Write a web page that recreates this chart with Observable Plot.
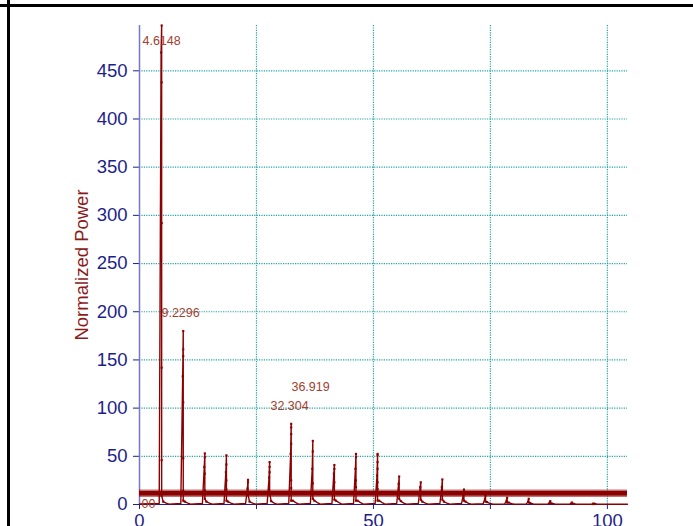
<!DOCTYPE html>
<html>
<head>
<meta charset="utf-8">
<script src="https://cdn.jsdelivr.net/npm/d3@7"></script>
<script src="https://cdn.jsdelivr.net/npm/@observablehq/plot@0.6"></script>
<style>
  html, body { margin: 0; padding: 0; background: #fff; }
  body { width: 693px; height: 526px; position: relative; overflow: hidden; font-family: "Liberation Sans", Arial, sans-serif; }
  #chart { position: absolute; left: 0; top: 0; }
  .frameTop { position: absolute; left: 0; top: 4px; width: 693px; height: 2.5px; background: #000; }
  .frameLeft { position: absolute; left: 7px; top: 0; width: 2.5px; height: 526px; background: #000; }
</style>
</head>
<body>
<div id="chart"></div>
<div class="frameTop"></div>
<div class="frameLeft"></div>
<script>
// ---- data ----
const peakFreq = [4.6148, 9.2296, 13.844, 18.459, 23.074, 27.689, 32.304, 36.919, 41.533, 46.148, 50.763,
                  55.378, 59.992, 64.607, 69.222, 73.837, 78.452, 83.066, 87.681, 92.296, 96.911];
const peakRise = [469, 133, 39, 33.5, 16.6, 28, 52.6, 37, 32, 37, 30, 21.5, 18, 18, 10, 6, 4, 3, 2, 1, 0.5];
const peakTop  = [497, 180, 53, 51, 25.6, 44, 83.7, 66, 41, 52.5, 52.5, 29, 23, 26, 15.5, 9.3, 7, 6, 3.5, 2, 1];
const peakFall = [
  [438, 292, 142, 46, 9],
  [161, 154, 106, 48, 14, 4],
  [49, 32, 14.5, 6],
  [41.5, 25, 15.5, 4],
  [23, 10],
  [39, 33.5, 12],
  [80, 73, 63, 25, 17, 4],
  [55, 22, 6],
  [37, 23, 5],
  [49, 25, 18, 4],
  [51, 44, 37, 23, 16, 4],
  [6], [5], [5], [4], [3], [2], [2], [1.5], [1], [0.5]
];
// small skirt samples around each peak: [before, after-near, after-far]
const peakSkirt = [
  [1, 3, 1.5], [1, 3, 1.5], [1, 3, 1.5], [1, 3, 1.5], [1, 3, 1.5], [1.2, 3.5, 1.5], [1.2, 4, 2],
  [1.2, 4, 2], [1.2, 4, 2], [1.2, 4, 2], [1.2, 4, 2], [1, 3.5, 1.5], [1, 3, 1.5], [1, 3, 1.5],
  [1, 3, 1.2], [0.8, 2.5, 1], [0.7, 2, 0.8], [0.6, 1.5, 0.7], [0.5, 1, 0.5], [0.4, 0.8, 0.4], [0.3, 0.6, 0.3]
];
const skirtOffsets = [-0.4, 0.45, 1.1];   // frequency offsets of skirt samples
const sampleStep = 0.12;                   // frequency step between up- and down-stroke samples
const baseLevel = 0.3;
const specStart = [0, 0.5];
const specEnd = [104.3, 0.3];

const bandLevel = 11.6;                    // horizontal threshold band

const yTicks = [0, 50, 100, 150, 200, 250, 300, 350, 400, 450];
const xTicks = [0, 25, 50, 75, 100];
const xTickLabels = [0, 50, 100];

const annoText = ["4.6148", "9.2296", "32.304", "36.919", "00"];
const annoX = [0.64, 4.70, 27.99, 32.48, 0.43];
const annoY = [480.4, 199.2, 102.7, 122.4, 1.0];

// ---- build spectrum samples ----
const spectrum = [{x: specStart[0], y: specStart[1]}];
const markers = [];
peakFreq.forEach((f, i) => {
  const s = peakSkirt[i];
  spectrum.push({x: f + skirtOffsets[0], y: s[0]});
  spectrum.push({x: f, y: peakRise[i]});
  markers.push({x: f, y: peakRise[i]});
  spectrum.push({x: f + sampleStep, y: peakTop[i]});
  markers.push({x: f + sampleStep, y: peakTop[i]});
  peakFall[i].forEach(v => { spectrum.push({x: f + sampleStep, y: v}); markers.push({x: f + sampleStep, y: v}); });
  spectrum.push({x: f + skirtOffsets[1], y: s[1]});
  markers.push({x: f + skirtOffsets[1], y: s[1]});
  spectrum.push({x: f + skirtOffsets[2], y: s[2]});
  spectrum.push({x: f + skirtOffsets[2] + 0.6, y: baseLevel});
});
spectrum.push({x: specEnd[0], y: specEnd[1]});

const annos = annoText.map((t, i) => ({t, x: annoX[i], y: annoY[i]}));

const navy = "#1e1e8c";
const red = "#8b0000";
const gridColor = "#22a5a5";

const chart = Plot.plot({
  width: 693,
  height: 526,
  marginLeft: 139,
  marginRight: 66,
  marginTop: 25,
  marginBottom: 22,
  style: {fontFamily: "'Liberation Sans', Arial, sans-serif", background: "transparent", overflow: "visible"},
  x: {domain: [0, 104.3]},
  y: {domain: [0, 497]},
  marks: [
    Plot.ruleY(yTicks.filter(d => d > 0), {stroke: gridColor, strokeOpacity: 1, strokeDasharray: "1.2,1.2", strokeWidth: 1.2}),
    Plot.ruleX(xTicks.filter(d => d > 0), {stroke: gridColor, strokeOpacity: 1, strokeDasharray: "1.2,1.2", strokeWidth: 1.2}),
    Plot.axisY(yTicks, {
      color: navy, tickSize: 6, tickPadding: 6, fontSize: 18.5, label: null
    }),
    Plot.axisX(xTicks, {
      color: navy, tickSize: 5, tickPadding: 4, fontSize: 18.5, label: null,
      tickFormat: d => xTickLabels.includes(d) ? String(d) : ""
    }),
    Plot.ruleX([0], {stroke: "#7777c2", strokeWidth: 1.5}),
    Plot.ruleY([0], {stroke: navy, strokeWidth: 1}),
    Plot.text(["Normalized Power"], {
      frameAnchor: "left", dx: -57, rotate: -90, textAnchor: "middle",
      fill: "#8b1a1a", fontSize: 18.5
    }),
    Plot.line(spectrum, {x: "x", y: "y", stroke: red, strokeWidth: 1.4, curve: "linear"}),
    Plot.dot(markers, {x: "x", y: "y", symbol: "square", r: 1.2, fill: red, stroke: null}),
    Plot.ruleY([bandLevel], {stroke: red, strokeOpacity: 0.55, strokeWidth: 7.5}),
    Plot.ruleY([bandLevel], {stroke: red, strokeWidth: 4.5}),
    Plot.text(annos, {x: "x", y: "y", text: "t", textAnchor: "start", fill: "#a2402e", fontSize: 12.5})
  ]
});
document.getElementById("chart").appendChild(chart);
</script>
</body>
</html>
